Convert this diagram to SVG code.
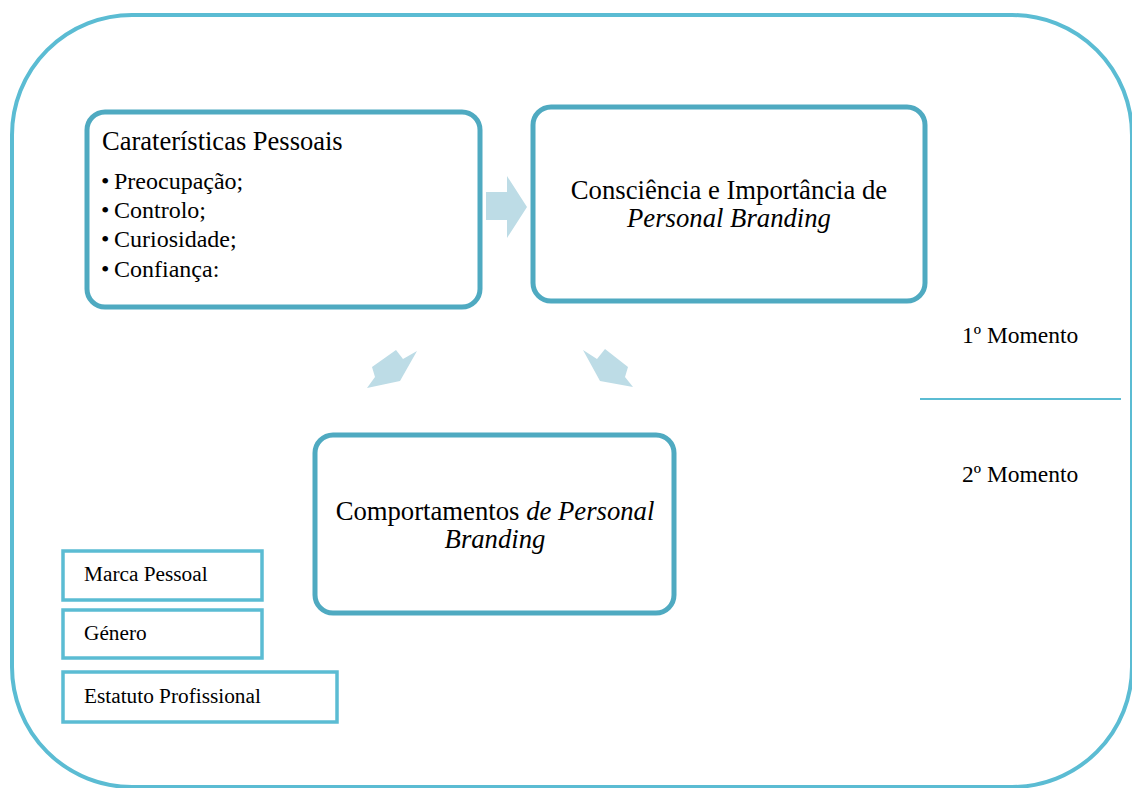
<svg xmlns="http://www.w3.org/2000/svg" width="1132" height="788" viewBox="0 0 1132 788">
<style>
.frame{fill:none;stroke:#5BBCD3;stroke-width:4}
.box{fill:#fff;stroke:#4FAAC1;stroke-width:5}
.sbox{fill:#fff;stroke:#5BBCD3;stroke-width:3.5}
.arr{fill:#BDDCE6;stroke:none}
.t{font-family:"Liberation Serif","Times New Roman",serif;fill:#000}
.i{font-style:italic}
</style>
<rect width="1132" height="788" fill="#fff"/>
<rect class="frame" x="12" y="15" width="1120" height="772" rx="120" ry="120"/>
<line x1="920" y1="399" x2="1121" y2="399" stroke="#5BBCD3" stroke-width="2"/>
<text class="t" x="962" y="343" font-size="23.5">1º Momento</text>
<text class="t" x="962" y="482" font-size="23.5">2º Momento</text>
<g id="connectors">
<polygon class="arr" points="486,192 507,192 507,176 527,207 507,238 507,220 486,220"/>
<polygon class="arr" points="367,388 375,377 372,367 396,350 403,359 417,351 400,381"/>
<polygon class="arr" points="633,387 625,377 628,367 605,349 597,359 583,350 600,381"/>
</g>
<g id="caracteristicas">
<rect class="box" x="87" y="112" width="393" height="195" rx="18"/>
<text class="t" x="102" y="150" font-size="26.5">Caraterísticas Pessoais</text>
<text class="t" font-size="24"><tspan x="101" y="189">•</tspan><tspan x="114" y="189">Preocupação;</tspan><tspan x="101" y="218">•</tspan><tspan x="114" y="218">Controlo;</tspan><tspan x="101" y="247">•</tspan><tspan x="114" y="247">Curiosidade;</tspan><tspan x="101" y="277">•</tspan><tspan x="114" y="277">Confiança:</tspan></text>
</g>
<g id="consciencia">
<rect class="box" x="533" y="107" width="392" height="194" rx="18"/>
<text class="t" x="729" y="199" font-size="26.7" text-anchor="middle">Consciência e Importância de</text>
<text class="t i" x="729" y="227" font-size="26.7" text-anchor="middle">Personal Branding</text>
</g>
<g id="comportamentos">
<rect class="box" x="315" y="435" width="359" height="178" rx="18"/>
<text class="t" x="495" y="520" font-size="26.7" text-anchor="middle">Comportamentos <tspan class="i">de Personal</tspan></text>
<text class="t i" x="495" y="548" font-size="26.7" text-anchor="middle">Branding</text>
</g>
<g id="marca">
<rect class="sbox" x="63" y="551" width="199" height="49"/>
<text class="t" x="84" y="581" font-size="21.3">Marca Pessoal</text>
</g>
<g id="genero">
<rect class="sbox" x="63" y="610" width="199" height="48"/>
<text class="t" x="84" y="640" font-size="21.3">Género</text>
</g>
<g id="estatuto">
<rect class="sbox" x="63" y="672" width="274" height="50"/>
<text class="t" x="84" y="703" font-size="21.3">Estatuto Profissional</text>
</g>
</svg>
